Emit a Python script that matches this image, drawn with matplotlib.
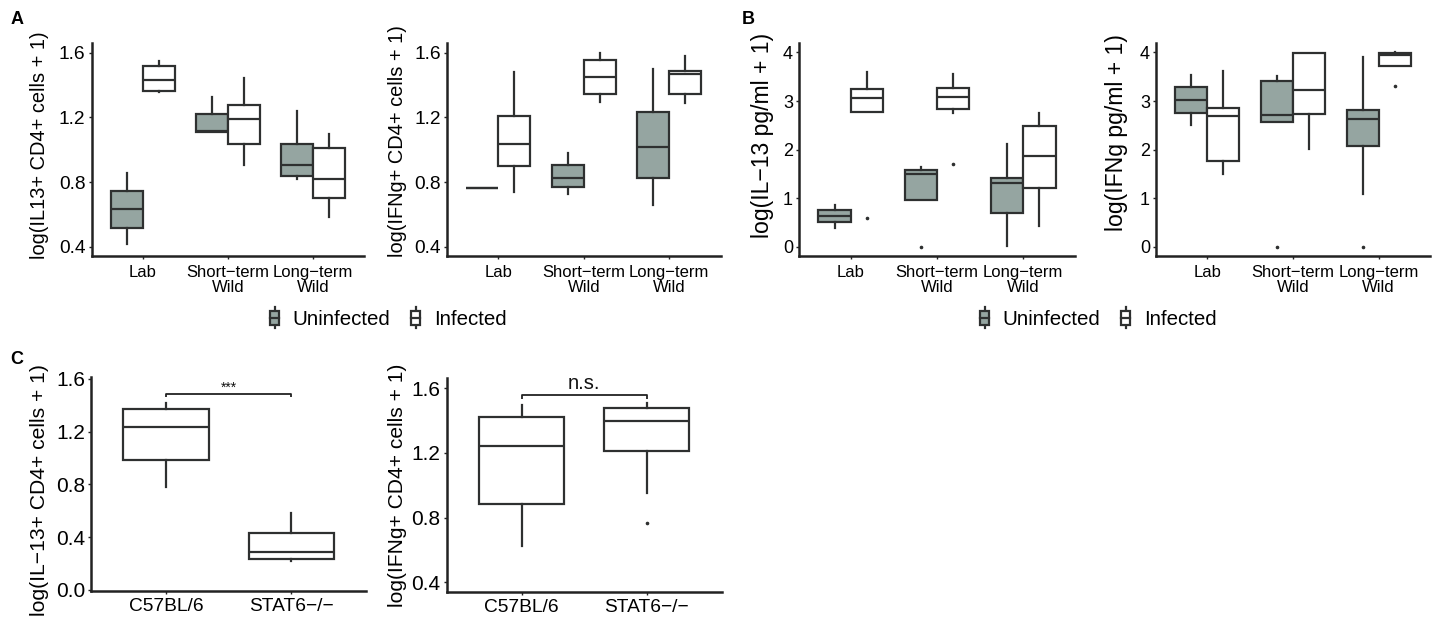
import numpy as np
import matplotlib
matplotlib.use("Agg")
import matplotlib.pyplot as plt
from matplotlib.legend_handler import HandlerBase
from matplotlib.patches import Rectangle, Patch
from matplotlib.lines import Line2D

plt.rcParams['font.family'] = ['Liberation Sans', 'DejaVu Sans']

# ---------------- data (whislo, q1, median, q3, whishi) ----------------
groups = ["Lab", "Short\u2212term\nWild", "Long\u2212term\nWild"]
strains = ["C57BL/6", "STAT6\u2212/\u2212"]
status = ["Uninfected", "Infected"]

il13_cells_uninf = [[0.415, 0.518, 0.632, 0.743, 0.854],
                    [1.111, 1.111, 1.113, 1.221, 1.324],
                    [0.819, 0.839, 0.907, 1.035, 1.238]]
il13_cells_inf = [[1.355, 1.363, 1.433, 1.516, 1.549],
                  [0.905, 1.037, 1.188, 1.277, 1.441],
                  [0.586, 0.703, 0.819, 1.013, 1.095]]

ifng_cells_uninf = [[0.761, 0.761, 0.761, 0.761, 0.761],
                    [0.726, 0.771, 0.823, 0.905, 0.982],
                    [0.658, 0.827, 1.015, 1.231, 1.501]]
ifng_cells_inf = [[0.737, 0.901, 1.035, 1.210, 1.479],
                  [1.293, 1.343, 1.448, 1.553, 1.600],
                  [1.287, 1.343, 1.470, 1.489, 1.580]]

il13_pg_uninf = [[0.39, 0.50, 0.63, 0.75, 0.86],
                 [0.96, 0.96, 1.50, 1.58, 1.65],
                 [0.01, 0.70, 1.32, 1.42, 2.11]]
il13_pg_uninf_fliers = [[], [0.0], []]
il13_pg_inf = [[2.77, 2.77, 3.06, 3.24, 3.60],
               [2.76, 2.83, 3.09, 3.26, 3.56],
               [0.43, 1.20, 1.87, 2.49, 2.76]]
il13_pg_inf_fliers = [[0.60], [1.70], []]

ifng_pg_uninf = [[2.50, 2.76, 3.03, 3.28, 3.54],
                 [2.56, 2.56, 2.72, 3.42, 3.52],
                 [1.09, 2.07, 2.63, 2.81, 3.90]]
ifng_pg_uninf_fliers = [[], [0.0], [0.0]]
ifng_pg_inf = [[1.50, 1.77, 2.70, 2.85, 3.61],
               [2.02, 2.74, 3.23, 3.99, 3.99],
               [3.72, 3.72, 3.95, 3.99, 4.00]]
ifng_pg_inf_fliers = [[], [], [3.30]]

il13_stat6 = [[0.782, 0.984, 1.234, 1.368, 1.413],
              [0.220, 0.237, 0.290, 0.429, 0.580]]
il13_stat6_fliers = [[], []]
ifng_stat6 = [[0.627, 0.885, 1.243, 1.421, 1.497],
              [0.951, 1.212, 1.400, 1.476, 1.507]]
ifng_stat6_fliers = [[], [0.769]]

sig_il13 = "***"
sig_ifng = "n.s."

# ---------------- styling ----------------
W, H = 1439, 619
fig = plt.figure(figsize=(W / 100, H / 100), dpi=100)
LINE = '#2e3030'
FILL = '#95A5A1'
LW = 1.6


def ax_px(l, r, t, b):
    return fig.add_axes([l / W, 1 - b / H, (r - l) / W, (b - t) / H])


def style(ax, yfs, xfs, xpad):
    for s in ['top', 'right']:
        ax.spines[s].set_visible(False)
    for s in ['left', 'bottom']:
        ax.spines[s].set_linewidth(1.8)
        ax.spines[s].set_color('#222222')
    ax.tick_params(length=2.5, width=1, color='#222222', pad=1.8,
                   labelcolor='black')
    ax.tick_params(axis='y', labelsize=yfs)
    ax.tick_params(axis='x', labelsize=xfs, pad=xpad)
    ax.set_facecolor('none')


def stats(summ, fliers=None):
    out = []
    for i, s in enumerate(summ):
        out.append(dict(whislo=s[0], q1=s[1], med=s[2], q3=s[3], whishi=s[4],
                        fliers=(fliers[i] if fliers else [])))
    return out


def draw(ax, summ, fliers, pos, width, fill):
    ax.bxp(stats(summ, fliers), positions=pos, widths=width, patch_artist=True,
           showcaps=False, manage_ticks=False,
           boxprops=dict(facecolor=fill, edgecolor=LINE, linewidth=LW),
           whiskerprops=dict(color=LINE, linewidth=LW),
           medianprops=dict(color=LINE, linewidth=LW),
           flierprops=dict(marker='o', markersize=1.6, markerfacecolor=LINE,
                           markeredgecolor=LINE, linestyle='none'))


def grouped(ax, uninf, inf, fu, fi, ylim, yticks, ylabels, yfs, xfs):
    pos = np.arange(1, len(groups) + 1)
    draw(ax, uninf, fu, pos - 0.1875, 0.375, FILL)
    draw(ax, inf, fi, pos + 0.1875, 0.375, 'white')
    ax.set_xlim(0.4, len(groups) + 0.6)
    ax.set_ylim(*ylim)
    ax.set_yticks(yticks)
    ax.set_yticklabels(ylabels)
    ax.set_xticks(pos)
    ax.set_xticklabels(groups)
    style(ax, yfs, xfs, 4.2)
    for t in ax.get_xticklabels():
        t.set_linespacing(1.0)


# Panel A
axA1 = ax_px(91.5, 364, 43, 256)
grouped(axA1, il13_cells_uninf, il13_cells_inf, None, None, (0.3425, 1.66),
        [0.4, 0.8, 1.2, 1.6], ['0.4', '0.8', '1.2', '1.6'], 13.8, 12.0)
axA2 = ax_px(447, 720.6, 43, 256)
grouped(axA2, ifng_cells_uninf, ifng_cells_inf, None, None, (0.3425, 1.66),
        [0.4, 0.8, 1.2, 1.6], ['0.4', '0.8', '1.2', '1.6'], 13.8, 12.0)

# Panel B
axB1 = ax_px(799, 1075, 42.7, 256)
grouped(axB1, il13_pg_uninf, il13_pg_inf, il13_pg_uninf_fliers, il13_pg_inf_fliers,
        (-0.19, 4.2), [0, 1, 2, 3, 4], ['0', '1', '2', '3', '4'], 13.0, 12.0)
axB2 = ax_px(1156, 1430, 42.7, 256)
grouped(axB2, ifng_pg_uninf, ifng_pg_inf, ifng_pg_uninf_fliers, ifng_pg_inf_fliers,
        (-0.19, 4.2), [0, 1, 2, 3, 4], ['0', '1', '2', '3', '4'], 13.0, 12.0)


# Panel C
def single(ax, summ, fl, ylim, yticks, ylabels, yfs, xfs):
    pos = np.arange(1, len(strains) + 1)
    draw(ax, summ, fl, pos, 0.68, 'white')
    ax.set_xlim(0.4, len(strains) + 0.6)
    ax.set_ylim(*ylim)
    ax.set_yticks(yticks)
    ax.set_yticklabels(ylabels)
    ax.set_xticks(pos)
    ax.set_xticklabels(strains)
    style(ax, yfs, xfs, 2.5)


def bracket(ax, y, drop, text, fs, dy):
    ax.plot([1, 1, 2, 2], [y - drop, y, y, y - drop], color='#222222', lw=1.3,
            solid_capstyle='butt', clip_on=False)
    ax.text(1.5, y + dy, text, ha='center', va='bottom', fontsize=fs, color='#111111')


axC1 = ax_px(91, 366, 377, 591)
single(axC1, il13_stat6, il13_stat6_fliers, (-0.0076, 1.613),
       [0.0, 0.4, 0.8, 1.2, 1.6], ['0.0', '0.4', '0.8', '1.2', '1.6'], 15.0, 13.8)
bracket(axC1, 1.484, 0.02, sig_il13, 10, -0.005)

axC2 = ax_px(446.7, 721.7, 378.3, 591.7)
single(axC2, ifng_stat6, ifng_stat6_fliers, (0.342, 1.662),
       [0.4, 0.8, 1.2, 1.6], ['0.4', '0.8', '1.2', '1.6'], 15.0, 13.8)
bracket(axC2, 1.559, 0.027, sig_ifng, 14.5, 0.01)

# y labels (figure text)
ylabs = [
    ("log(IL13+ CD4+ cells + 1)", 40, 145, 14.4),
    ("log(IFNg+ CD4+ cells + 1)", 397.5, 140.8, 14.4),
    ("log(IL\u221213 pg/ml + 1)", 762, 135.8, 16.6),
    ("log(IFNg pg/ml + 1)", 1116.7, 133, 16.6),
    ("log(IL\u221213+ CD4+ cells + 1)", 40, 490, 15.2),
    ("log(IFNg+ CD4+ cells + 1)", 397.5, 485, 15.1),
]
for txt, x, y, fs in ylabs:
    fig.text(x / W, 1 - y / H, txt, rotation=90, ha='center', va='center',
             fontsize=fs, color='black')

# panel letters
for letter, x, y in [("A", 17, 19), ("B", 748, 19), ("C", 17, 359)]:
    fig.text(x / W, 1 - y / H, letter, ha='center', va='center',
             fontsize=13, fontweight='bold')


# legends
class BoxHandler(HandlerBase):
    def create_artists(self, legend, orig_handle, xdescent, ydescent, width,
                       height, fontsize, trans):
        x0, y0 = -xdescent, -ydescent
        cx = x0 + width / 2
        fc = orig_handle.get_facecolor()
        whisk = Line2D([cx, cx], [y0 - 0.1 * height, y0 + 1.1 * height], color=LINE, lw=LW)
        rect = Rectangle((x0, y0 + 0.08 * height), width, 0.84 * height,
                         facecolor=fc, edgecolor=LINE, lw=LW)
        med = Line2D([x0, x0 + width], [y0 + 0.5 * height] * 2, color=LINE, lw=LW)
        for a in (whisk, rect, med):
            a.set_transform(trans)
        return [whisk, rect, med]


handles = [Patch(facecolor=FILL), Patch(facecolor='white')]
for cx in (388.3, 1098.3):
    fig.legend(handles, status, handler_map={Patch: BoxHandler()},
               loc='center', bbox_to_anchor=(cx / W, 1 - 319 / H), ncol=2,
               frameon=False, fontsize=14.8, handlelength=0.45, handleheight=0.9,
               handletextpad=0.65, columnspacing=1.0, borderpad=0, borderaxespad=0)

fig.savefig("out.png", dpi=100, facecolor='white')
